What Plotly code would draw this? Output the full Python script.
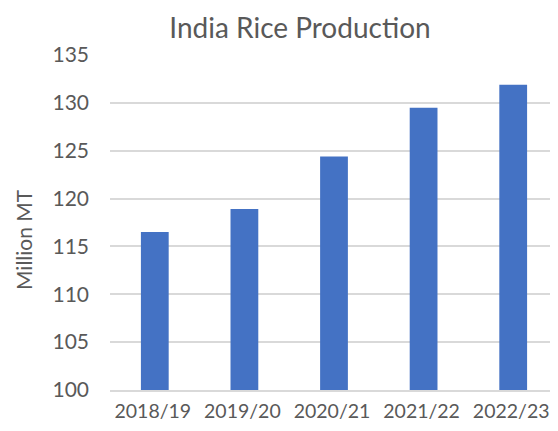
import plotly.graph_objects as go

seasons = ["2018/19", "2019/20", "2020/21", "2021/22", "2022/23"]
production = [116.5, 118.9, 124.4, 129.5, 131.9]
y_ticks = [100, 105, 110, 115, 120, 125, 130, 135]

FONT = "Lato"
GREY = "#595959"
GRID = "#d9d9d9"

# the page puts the figure 8px in from the top-left corner
W, H = 550, 415
L, T, B = 102, 47, 33
plot_w, plot_h = W - L, H - T - B

fig = go.Figure()
fig.add_bar(x=seasons, y=production, marker_color="#4472c4", marker_line_width=0,
            showlegend=False)

fig.update_layout(
    width=W, height=H,
    margin=dict(l=L, r=0, t=T, b=B, autoexpand=False),
    paper_bgcolor="white", plot_bgcolor="white",
    bargap=0.69,
    font=dict(family=FONT, size=21, color=GREY),
    title=dict(text="India Rice Production", x=292 / W, xref="container",
               xanchor="center", y=1 - 20 / H, yanchor="middle",
               font=dict(family=FONT, size=28, color=GREY)),
    xaxis=dict(showgrid=False, showline=True, linecolor=GRID, linewidth=1.5,
               ticks="", tickfont=dict(size=19.5, color=GREY), ticklabelstandoff=3,
               ticklabelshift=-2),
    yaxis=dict(range=[100, 135], tickvals=y_ticks, showgrid=True, gridcolor=GRID,
               gridwidth=1.5, zeroline=False, showline=False, ticks="",
               tickfont=dict(size=21, color=GREY), ticklabelstandoff=20),
    annotations=[dict(text="Million MT", textangle=-90, xref="paper", yref="paper",
                      x=-(L - 15) / plot_w, y=(H - B - 232) / plot_h, xanchor="center",
                      yanchor="middle", showarrow=False,
                      font=dict(family=FONT, size=21, color=GREY))],
)

fig.write_html("out.html")
